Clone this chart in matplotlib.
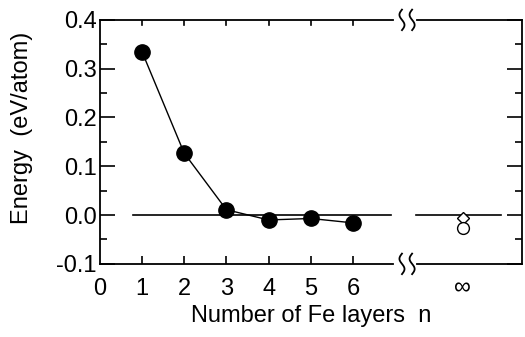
import numpy as np
import matplotlib.pyplot as plt
from matplotlib.ticker import MultipleLocator

plt.rcParams['font.family'] = ['Liberation Sans', 'DejaVu Sans']

# data
layers = [1, 2, 3, 4, 5, 6]
energy = [0.335, 0.127, 0.011, -0.010, -0.007, -0.016]
inf_pos = 8.6
inf_diamond = -0.007
inf_circle = -0.027
tick_pos = [0, 1, 2, 3, 4, 5, 6, inf_pos]
tick_labels = ['0', '1', '2', '3', '4', '5', '6', '\u221e']

fig = plt.figure(figsize=(5.25, 3.37), dpi=100)
ax = fig.add_axes([0.19, 0.217, 0.804, 0.724])

ax.set_xlim(0, 10)
ax.set_ylim(-0.1, 0.4)

# zero reference line, broken at the axis break
ax.plot([0.78, 6.9], [0, 0], color='black', lw=1.2)
ax.plot([7.5, 9.5], [0, 0], color='black', lw=1.2)

ax.plot(layers, energy, '-o', color='black', lw=1.0, ms=11)
ax.plot([inf_pos], [inf_diamond], 'D', mfc='white', mec='black', ms=6, mew=1.0)
ax.plot([inf_pos], [inf_circle], 'o', mfc='white', mec='black', ms=8.5, mew=1.0)

# axes frame with break in top and bottom spines
ax.spines['top'].set_visible(False)
ax.spines['bottom'].set_visible(False)
for s in ['left', 'right']:
    ax.spines[s].set_linewidth(1.3)
t = np.linspace(-1, 1, 40)
for yv in (0, 1):
    ax.plot([0, 0.694], [yv, yv], transform=ax.transAxes, color='black', lw=1.3, clip_on=False)
    ax.plot([0.751, 1.0], [yv, yv], transform=ax.transAxes, color='black', lw=1.3, clip_on=False)
    for dx in (0.716, 0.740):
        xs = dx - 0.006 * np.sin(t * np.pi)
        ys = yv + 0.042 * t
        ax.plot(xs, ys, transform=ax.transAxes, color='black', lw=1.3, clip_on=False)

ax.set_xticks(tick_pos)
ax.set_xticklabels(tick_labels)
ax.get_xticklabels()[-1].set_fontsize(22)
ax.yaxis.set_major_locator(MultipleLocator(0.1))
ax.yaxis.set_minor_locator(MultipleLocator(0.05))
ax.yaxis.set_major_formatter(plt.FormatStrFormatter('%.1f'))
ax.tick_params(axis='y', which='major', direction='in', length=11, width=1.2,
               right=True, labelsize=17, pad=2)
ax.tick_params(axis='y', which='minor', direction='in', length=5, width=1.2, right=True)
ax.tick_params(axis='x', direction='in', length=6, width=1.2, labelsize=17, pad=10)
for tk in [ax.xaxis.get_major_ticks()[0], ax.xaxis.get_major_ticks()[-1]]:
    tk.tick1line.set_visible(False)

# short top ticks at n = 1..6
for x in layers:
    ax.plot([x, x], [1, 0.978], transform=ax.get_xaxis_transform(), color='black', lw=1.2)

ax.set_xlabel('Number of Fe layers  n', fontsize=17, labelpad=4)
ax.set_ylabel('Energy  (eV/atom)', fontsize=17)
ax.yaxis.set_label_coords(-0.158, 0.557)

fig.savefig('out.png', dpi=100)
